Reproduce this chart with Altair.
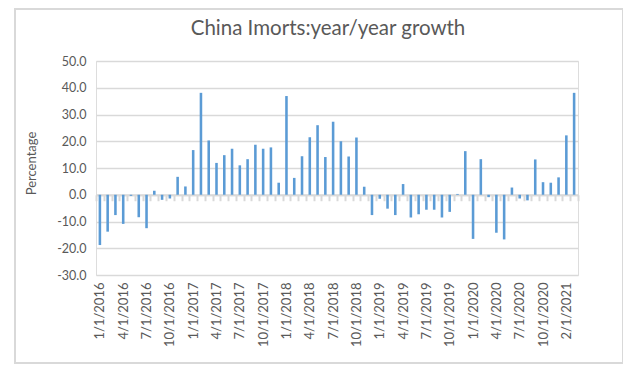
import json
import altair as alt
import pandas as pd

# ---- data ----
months = ([f"{m}/1/{y}" for y in range(2016, 2021) for m in range(1, 13)]
          + ["2/1/2021", "3/1/2021"])

growth_2016 = [-18.8, -13.8, -7.6, -10.9, -0.4, -8.4, -12.5, 1.5, -1.9, -1.4, 6.7, 3.1]
growth_2017 = [16.7, 38.1, 20.3, 11.9, 14.8, 17.2, 11.0, 13.3, 18.7, 17.2, 17.7, 4.5]
growth_2018 = [36.9, 6.3, 14.4, 21.5, 26.0, 14.1, 27.3, 20.0, 14.3, 21.4, 3.0, -7.6]
growth_2019 = [-1.5, -5.2, -7.6, 4.0, -8.5, -7.3, -5.6, -5.6, -8.5, -6.4, 0.3, 16.3]
growth_2020 = [-16.5, 13.3, -0.9, -14.2, -16.7, 2.7, -1.4, -2.1, 13.2, 4.7, 4.5, 6.5]
growth_2021 = [22.2, 38.1]

values = growth_2016 + growth_2017 + growth_2018 + growth_2019 + growth_2020 + growth_2021
shown_labels = months[::3]
y_ticks = [-30, -20, -10, 0, 10, 20, 30, 40, 50]

title_text = "China Imorts:year/year growth"
y_title = "Percentage"

df = pd.DataFrame({"month": months, "growth": values})

W, H = 482, 214
y_min, y_max = -30, 50
zero_from_bottom = H * (0 - y_min) / (y_max - y_min)

GRID = "#d9d9d9"
TXT = "#595959"

label_expr = ("indexof(" + json.dumps(shown_labels) + ", datum.value) >= 0 ? datum.value : ''")

bars = alt.Chart(df).mark_bar(color="#5b9bd5", width=alt.RelativeBandSize(0.33)).encode(
    x=alt.X("month:N", sort=months,
            scale=alt.Scale(paddingInner=0, paddingOuter=0),
            axis=alt.Axis(title=None, orient="bottom", offset=-zero_from_bottom,
                          domain=True, domainColor=GRID, domainWidth=2,
                          ticks=True, tickColor=GRID, tickWidth=2, tickSize=6,
                          tickBand="extent",
                          labelAngle=270, labelAlign="right", labelBaseline="middle",
                          labelPadding=zero_from_bottom - 6 + 7,
                          labelExpr=label_expr, labelOverlap=False,
                          labelFont="Lato", labelFontSize=13, labelColor=TXT)),
    y=alt.Y("growth:Q",
            scale=alt.Scale(domain=[y_min, y_max], nice=False, zero=False),
            axis=alt.Axis(values=y_ticks,
                          labelExpr="replace(format(datum.value, '.1f'), '\u2212', '-')",
                          grid=True, gridColor=GRID, gridWidth=1.5,
                          domain=False, ticks=False, labelPadding=10,
                          labelFont="Lato", labelFontSize=12.5, labelColor=TXT,
                          title=y_title, titleFont="Lato", titleFontSize=13,
                          titleFontWeight="normal", titleColor=TXT,
                          titleAngle=270, titleX=-64.5, titleY=H / 2 - 5,
                          titleAlign="center", titleBaseline="middle")),
)

title = alt.Chart(pd.DataFrame({"t": [title_text]})).mark_text(
    font="Lato", fontSize=20.5, color=TXT, align="center", baseline="alphabetic"
).encode(text="t:N", x=alt.value(232), y=alt.value(-26))

frame = alt.Chart(pd.DataFrame({"a": [0]})).mark_rect(
    filled=False, stroke=GRID, strokeWidth=2
).encode(x=alt.value(-81), x2=alt.value(527), y=alt.value(-52), y2=alt.value(302))

chart = alt.layer(frame, bars, title).properties(
    width=W, height=H,
    autosize=alt.AutoSizeParams(type="none"),
    padding={"left": 88, "top": 53, "right": 45, "bottom": 90},
).configure_view(stroke=None).configure(background="white")

chart.save("out.html", embed_options={"renderer": "svg", "actions": False})
